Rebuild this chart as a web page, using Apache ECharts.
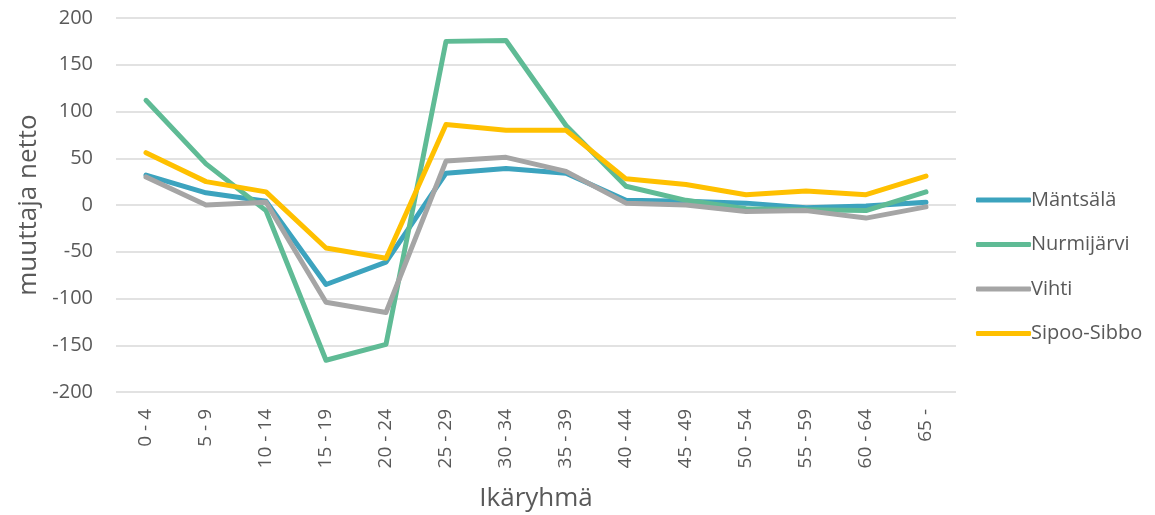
<!DOCTYPE html>
<html>
<head>
<meta charset="utf-8">
<script src="https://cdn.jsdelivr.net/npm/echarts@6/dist/echarts.min.js"></script>
<style>
  html, body { margin: 0; padding: 0; background: #fff; }
  #chart { width: 1155px; height: 515px; }
</style>
</head>
<body>
<div id="chart"></div>
<script>
const ageGroups = ["0 - 4", "5 - 9", "10 - 14", "15 - 19", "20 - 24", "25 - 29", "30 - 34",
  "35 - 39", "40 - 44", "45 - 49", "50 - 54", "55 - 59", "60 - 64", "65 -"];

const mantsala = [32, 13, 4, -85, -61, 34, 39, 34, 5, 4, 2, -3, -1, 3];
const nurmijarvi = [112, 44, -6, -166, -149, 175, 176, 85, 20, 5, -4, -5, -6, 14];
const vihti = [30, 0, 3, -104, -115, 47, 51, 36, 2, 0, -7, -6, -14, -2];
const sipoo = [56, 25, 14, -46, -57, 86, 80, 80, 28, 22, 11, 15, 11, 31];

const seriesNames = ["Mäntsälä", "Nurmijärvi", "Vihti", "Sipoo-Sibbo"];
const seriesColors = ["#3ca3be", "#5fbb95", "#a5a5a5", "#ffc000"];
const seriesData = [mantsala, nurmijarvi, vihti, sipoo];

const textColor = "#595959";
const fontFamily = "'Open Sans', 'Noto Sans', sans-serif";

const chart = echarts.init(document.getElementById("chart"));

const option = {
  animation: false,
  textStyle: { fontFamily: fontFamily },
  grid: { left: 116, right: 199, top: 18, bottom: 123, outerBoundsMode: "none", containLabel: false },
  legend: {
    orient: "vertical",
    left: 971,
    top: 185,
    icon: "roundRect",
    itemWidth: 55,
    itemHeight: 5,
    itemGap: 24.5,
    textStyle: { color: textColor, fontSize: 20, fontFamily: fontFamily, padding: [0, 0, 0, -5] },
    data: seriesNames,
  },
  xAxis: {
    type: "category",
    data: ageGroups,
    boundaryGap: true,
    name: "Ikäryhmä",
    nameLocation: "middle",
    nameGap: 94,
    nameTextStyle: { color: textColor, fontSize: 26, fontFamily: fontFamily },
    axisLine: { show: false, onZero: false },
    axisTick: { show: false },
    axisLabel: { rotate: 90, color: textColor, fontSize: 19, margin: 17, interval: 0 },
  },
  yAxis: {
    type: "value",
    min: -200,
    max: 200,
    interval: 50,
    name: "muuttaja netto",
    nameLocation: "middle",
    nameGap: 73,
    nameTextStyle: { color: textColor, fontSize: 26, fontFamily: fontFamily },
    axisLine: { show: false },
    axisTick: { show: false },
    axisLabel: { color: textColor, fontSize: 20, margin: 23 },
    splitLine: { lineStyle: { color: "#d9d9d9", width: 1.5 } },
  },
  series: seriesNames.map((name, i) => ({
    name: name,
    type: "line",
    data: seriesData[i],
    symbol: "none",
    color: seriesColors[i],
    lineStyle: { width: 5, color: seriesColors[i], cap: "round", join: "round" },
  })),
};

chart.setOption(option);
</script>
</body>
</html>
